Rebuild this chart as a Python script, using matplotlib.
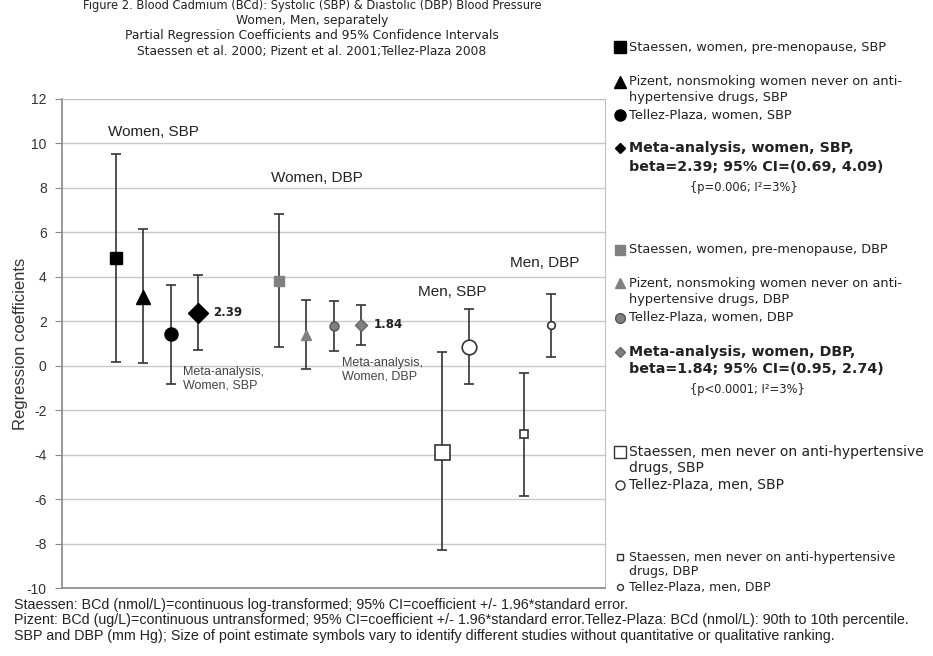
import matplotlib
matplotlib.use('Agg')
import matplotlib.pyplot as plt

# ---------------- data ----------------
series = ["Staessen, women, pre-menopause, SBP",
          "Pizent, nonsmoking women never on anti-hypertensive drugs, SBP",
          "Tellez-Plaza, women, SBP",
          "Meta-analysis, women, SBP",
          "Staessen, women, pre-menopause, DBP",
          "Pizent, nonsmoking women never on anti-hypertensive drugs, DBP",
          "Tellez-Plaza, women, DBP",
          "Meta-analysis, women, DBP",
          "Staessen, men never on anti-hypertensive drugs, SBP",
          "Tellez-Plaza, men, SBP",
          "Staessen, men never on anti-hypertensive drugs, DBP",
          "Tellez-Plaza, men, DBP"]
x_pos = [0, 1, 2, 3, 6, 7, 8, 9, 12, 13, 15, 16]
estimates = [4.83, 3.11, 1.43, 2.39, 3.83, 1.36, 1.80, 1.84, -3.87, 0.86, -3.07, 1.83]
ci_low = [0.17, 0.14, -0.82, 0.69, 0.86, -0.13, 0.66, 0.95, -8.29, -0.82, -5.86, 0.40]
ci_high = [9.53, 6.15, 3.63, 4.09, 6.83, 2.95, 2.93, 2.74, 0.62, 2.57, -0.33, 3.23]

group_labels = ["Women, SBP", "Women, DBP", "Men, SBP", "Men, DBP"]
group_label_pos = [(-0.3, 10.5), (5.7, 8.45), (11.1, 3.3), (14.5, 4.6)]

yticks = [-10, -8, -6, -4, -2, 0, 2, 4, 6, 8, 10, 12]

# ---------------- styles ----------------
markers = ['s', '^', 'o', 'D', 's', '^', 'o', 'D', 's', 'o', 's', 'o']
msizes = [9.1, 9.5, 9.4, 10.2, 6.5, 7.7, 6.5, 6.4, 10.8, 10.5, 5.8, 5.5]
GRAY = '#808080'
faces = ['black'] * 4 + [GRAY] * 4 + ['white'] * 4
edges = ['black'] * 4 + [GRAY, GRAY, '#555555', '#666666'] + ['#333333'] * 4

W, H = 933, 656
fig = plt.figure(figsize=(W / 100, H / 100), dpi=100)
ax = fig.add_axes([62 / W, 1 - 588 / H, (605 - 62) / W, (588 - 99) / H])

for i in range(len(series)):
    ax.errorbar(x_pos[i], estimates[i],
                yerr=[[estimates[i] - ci_low[i]], [ci_high[i] - estimates[i]]],
                fmt='none', ecolor='#333333', elinewidth=1.2, capsize=3.5,
                capthick=1.2, zorder=3)
    ax.plot(x_pos[i], estimates[i], marker=markers[i], ms=msizes[i],
            mfc=faces[i], mec=edges[i], mew=1.2 if i >= 8 else 1.0,
            linestyle='none', zorder=4)

ax.set_xlim(-2, 18)
ax.set_ylim(-10, 12)
ax.set_yticks(yticks)
ax.set_yticklabels([str(t) for t in yticks], fontfamily='Liberation Sans',
                   fontsize=10, color='#333333')
ax.set_xticks([])
ax.tick_params(axis='y', direction='out', length=5, color='#888888', pad=6)
ax.yaxis.grid(True, color='#c8c8c8', linewidth=1.0)
ax.set_axisbelow(True)
for s in ['top', 'right']:
    ax.spines[s].set_color('#c0c0c0')
for s in ['left', 'bottom']:
    ax.spines[s].set_color('#888888')
    ax.spines[s].set_linewidth(1.2)
ax.set_ylabel("Regression coefficients", fontfamily='Liberation Sans',
              fontsize=12, color='#333333', labelpad=-1)

for lab, (gx, gy) in zip(group_labels, group_label_pos):
    ax.text(gx, gy, lab, fontfamily='Liberation Sans', fontsize=11,
            color='#222222', va='center', ha='left')

ax.text(3.57, 2.39, "2.39", fontweight='bold', fontsize=8.5, va='center',
        ha='left', color='#222222')
ax.text(9.47, 1.84, "1.84", fontweight='bold', fontsize=8.5, va='center',
        ha='left', color='#222222')
ax.text(2.45, -0.58, "Meta-analysis,\nWomen, SBP", fontfamily='Liberation Sans',
        fontsize=9, color='#444444', va='center', ha='left', linespacing=1.15)
ax.text(8.3, -0.2, "Meta-analysis,\nWomen, DBP", fontfamily='Liberation Sans',
        fontsize=9, color='#444444', va='center', ha='left', linespacing=1.15)

# ---------------- title ----------------
title_lines = ["Figure 2. Blood Cadmium (BCd): Systolic (SBP) & Diastolic (DBP) Blood Pressure",
               "Women, Men, separately",
               "Partial Regression Coefficients and 95% Confidence Intervals",
               "Staessen et al. 2000; Pizent et al. 2001;Tellez-Plaza 2008"]
title_y = [6, 20.5, 35, 51]
title_fs = [8.3, 8.8, 8.8, 8.8]
for t, ty, fs in zip(title_lines, title_y, title_fs):
    fig.text(312 / W, 1 - ty / H, t, ha='center', va='center', fontsize=fs,
             color='#222222')

# ---------------- legend (overlay) ----------------
ov = fig.add_axes([0, 0, 1, 1])
ov.set_xlim(0, W)
ov.set_ylim(H, 0)
ov.axis('off')

leg_marker_y = [47, 82, 115, 148, 250, 283, 318, 352, 452, 485, 557, 587]
leg_msizes = [8.5, 9.0, 8.0, 5.5, 7.0, 7.5, 7.0, 5.0, 8.4, 6.5, 4.8, 4.3]
leg_text = [["Staessen, women, pre-menopause, SBP"],
            ["Pizent, nonsmoking women never on anti-", "hypertensive drugs, SBP"],
            ["Tellez-Plaza, women, SBP"],
            ["Meta-analysis, women, SBP,", "beta=2.39; 95% CI=(0.69, 4.09)"],
            ["Staessen, women, pre-menopause, DBP"],
            ["Pizent, nonsmoking women never on anti-", "hypertensive drugs, DBP"],
            ["Tellez-Plaza, women, DBP"],
            ["Meta-analysis, women, DBP,", "beta=1.84; 95% CI=(0.95, 2.74)"],
            ["Staessen, men never on anti-hypertensive", "drugs, SBP"],
            ["Tellez-Plaza, men, SBP"],
            ["Staessen, men never on anti-hypertensive", "drugs, DBP"],
            ["Tellez-Plaza, men, DBP"]]
leg_bold = [False, False, False, True, False, False, False, True,
            False, False, False, False]
leg_fontsize = [9.3, 9.3, 9.3, 10.3, 9.3, 9.3, 9.3, 10.3, 10, 10, 9, 9]
leg_line_gap = [0, 16, 0, 19, 0, 16, 0, 17, 16, 0, 15, 0]

for i in range(len(series)):
    my = leg_marker_y[i]
    ov.plot(620, my, marker=markers[i], ms=leg_msizes[i], mfc=faces[i],
            mec=edges[i], mew=1.0, linestyle='none')
    for j, line in enumerate(leg_text[i]):
        ov.text(629, my + j * leg_line_gap[i], line, fontsize=leg_fontsize[i],
                fontweight='bold' if leg_bold[i] else 'normal',
                color='#222222', va='center', ha='left')

ov.text(690, 188, "{p=0.006; I²=3%}", fontsize=8.3,
        color='#222222', va='center', ha='left')
ov.text(690, 390, "{p<0.0001; I²=3%}", fontsize=8.3,
        color='#222222', va='center', ha='left')

# ---------------- footer ----------------
footer = ["Staessen: BCd (nmol/L)=continuous log-transformed; 95% CI=coefficient +/- 1.96*standard error.",
          "Pizent: BCd (ug/L)=continuous untransformed; 95% CI=coefficient +/- 1.96*standard error.Tellez-Plaza: BCd (nmol/L): 90th to 10th percentile.",
          "SBP and DBP (mm Hg); Size of point estimate symbols vary to identify different studies without quantitative or qualitative ranking."]
footer_y = [605, 620, 636]
for t, fy in zip(footer, footer_y):
    fig.text(14 / W, 1 - fy / H, t, ha='left', va='center',
             fontfamily='Liberation Sans', fontsize=10.3, color='#222222')

fig.savefig('out.png', dpi=100)
